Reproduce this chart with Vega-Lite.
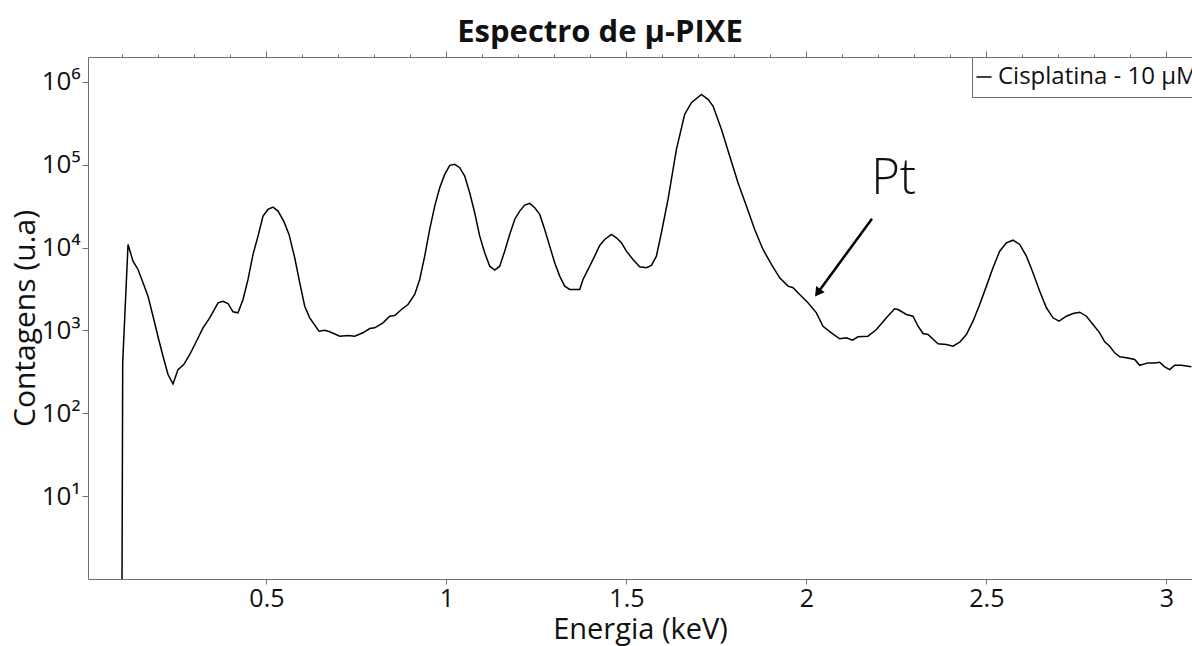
{
  "$schema": "https://vega.github.io/schema/vega-lite/v6.json",
  "width": 1104,
  "height": 522,
  "autosize": {"type": "none"},
  "padding": {"left": 88, "top": 57, "right": 0, "bottom": 67},
  "background": "white",
  "config": {
    "font": "Open Sans",
    "view": {"stroke": null},
    "axis": {"domainColor": "#707070", "tickColor": "#707070", "grid": false, "labelColor": "#111111", "titleColor": "#111111", "labelFont": "Open Sans", "titleFont": "Open Sans"}
  },
  "title": {"text": "Espectro de μ-PIXE", "fontSize": 31, "fontWeight": "bold", "font": "Open Sans", "anchor": "middle", "frame": "group", "dx": -40, "dy": 31, "baseline": "alphabetic", "offset": 9, "color": "#111111"},
  "datasets": {
    "spectrum": [
      {"energia": 0.0989, "contagens": 1, "serie": "Cisplatina - 10 μM"},
      {"energia": 0.1008, "contagens": 410, "serie": "Cisplatina - 10 μM"},
      {"energia": 0.1156, "contagens": 10920, "serie": "Cisplatina - 10 μM"},
      {"energia": 0.1294, "contagens": 6870, "serie": "Cisplatina - 10 μM"},
      {"energia": 0.1433, "contagens": 5450, "serie": "Cisplatina - 10 μM"},
      {"energia": 0.1572, "contagens": 3770, "serie": "Cisplatina - 10 μM"},
      {"energia": 0.1711, "contagens": 2595, "serie": "Cisplatina - 10 μM"},
      {"energia": 0.1850, "contagens": 1486, "serie": "Cisplatina - 10 μM"},
      {"energia": 0.2008, "contagens": 778, "serie": "Cisplatina - 10 μM"},
      {"energia": 0.2128, "contagens": 489, "serie": "Cisplatina - 10 μM"},
      {"energia": 0.2267, "contagens": 294, "serie": "Cisplatina - 10 μM"},
      {"energia": 0.2406, "contagens": 227, "serie": "Cisplatina - 10 μM"},
      {"energia": 0.2544, "contagens": 337, "serie": "Cisplatina - 10 μM"},
      {"energia": 0.2703, "contagens": 388, "serie": "Cisplatina - 10 μM"},
      {"energia": 0.2869, "contagens": 512, "serie": "Cisplatina - 10 μM"},
      {"energia": 0.3056, "contagens": 741, "serie": "Cisplatina - 10 μM"},
      {"energia": 0.3239, "contagens": 1076, "serie": "Cisplatina - 10 μM"},
      {"energia": 0.3425, "contagens": 1422, "serie": "Cisplatina - 10 μM"},
      {"energia": 0.3656, "contagens": 2158, "serie": "Cisplatina - 10 μM"},
      {"energia": 0.3794, "contagens": 2256, "serie": "Cisplatina - 10 μM"},
      {"energia": 0.3933, "contagens": 2117, "serie": "Cisplatina - 10 μM"},
      {"energia": 0.4072, "contagens": 1680, "serie": "Cisplatina - 10 μM"},
      {"energia": 0.4211, "contagens": 1634, "serie": "Cisplatina - 10 μM"},
      {"energia": 0.4350, "contagens": 2366, "serie": "Cisplatina - 10 μM"},
      {"energia": 0.4489, "contagens": 4130, "serie": "Cisplatina - 10 μM"},
      {"energia": 0.4628, "contagens": 8280, "serie": "Cisplatina - 10 μM"},
      {"energia": 0.4767, "contagens": 13770, "serie": "Cisplatina - 10 μM"},
      {"energia": 0.4906, "contagens": 23990, "serie": "Cisplatina - 10 μM"},
      {"energia": 0.5044, "contagens": 28910, "serie": "Cisplatina - 10 μM"},
      {"energia": 0.5183, "contagens": 30830, "serie": "Cisplatina - 10 μM"},
      {"energia": 0.5322, "contagens": 27600, "serie": "Cisplatina - 10 μM"},
      {"energia": 0.5481, "contagens": 20890, "serie": "Cisplatina - 10 μM"},
      {"energia": 0.5628, "contagens": 14430, "serie": "Cisplatina - 10 μM"},
      {"energia": 0.5786, "contagens": 7550, "serie": "Cisplatina - 10 μM"},
      {"energia": 0.5925, "contagens": 3770, "serie": "Cisplatina - 10 μM"},
      {"energia": 0.6064, "contagens": 1963, "serie": "Cisplatina - 10 μM"},
      {"energia": 0.6203, "contagens": 1422, "serie": "Cisplatina - 10 μM"},
      {"energia": 0.6461, "contagens": 979, "serie": "Cisplatina - 10 μM"},
      {"energia": 0.6619, "contagens": 1007, "serie": "Cisplatina - 10 μM"},
      {"energia": 0.6758, "contagens": 963, "serie": "Cisplatina - 10 μM"},
      {"energia": 0.7036, "contagens": 853, "serie": "Cisplatina - 10 μM"},
      {"energia": 0.7267, "contagens": 869, "serie": "Cisplatina - 10 μM"},
      {"energia": 0.7453, "contagens": 853, "serie": "Cisplatina - 10 μM"},
      {"energia": 0.7683, "contagens": 937, "serie": "Cisplatina - 10 μM"},
      {"energia": 0.7869, "contagens": 1056, "serie": "Cisplatina - 10 μM"},
      {"energia": 0.8008, "contagens": 1076, "serie": "Cisplatina - 10 μM"},
      {"energia": 0.8239, "contagens": 1238, "serie": "Cisplatina - 10 μM"},
      {"energia": 0.8425, "contagens": 1486, "serie": "Cisplatina - 10 μM"},
      {"energia": 0.8564, "contagens": 1517, "serie": "Cisplatina - 10 μM"},
      {"energia": 0.8750, "contagens": 1791, "serie": "Cisplatina - 10 μM"},
      {"energia": 0.8933, "contagens": 2056, "serie": "Cisplatina - 10 μM"},
      {"energia": 0.9119, "contagens": 2718, "serie": "Cisplatina - 10 μM"},
      {"energia": 0.9258, "contagens": 4130, "serie": "Cisplatina - 10 μM"},
      {"energia": 0.9397, "contagens": 7890, "serie": "Cisplatina - 10 μM"},
      {"energia": 0.9536, "contagens": 16590, "serie": "Cisplatina - 10 μM"},
      {"energia": 0.9675, "contagens": 31700, "serie": "Cisplatina - 10 μM"},
      {"energia": 0.9814, "contagens": 52850, "serie": "Cisplatina - 10 μM"},
      {"energia": 0.9953, "contagens": 76560, "serie": "Cisplatina - 10 μM"},
      {"energia": 1.0092, "contagens": 98400, "serie": "Cisplatina - 10 μM"},
      {"energia": 1.0231, "contagens": 101100, "serie": "Cisplatina - 10 μM"},
      {"energia": 1.0369, "contagens": 92300, "serie": "Cisplatina - 10 μM"},
      {"energia": 1.0508, "contagens": 73100, "serie": "Cisplatina - 10 μM"},
      {"energia": 1.0647, "contagens": 46030, "serie": "Cisplatina - 10 μM"},
      {"energia": 1.0786, "contagens": 26370, "serie": "Cisplatina - 10 μM"},
      {"energia": 1.0925, "contagens": 13770, "serie": "Cisplatina - 10 μM"},
      {"energia": 1.1064, "contagens": 8670, "serie": "Cisplatina - 10 μM"},
      {"energia": 1.1203, "contagens": 5970, "serie": "Cisplatina - 10 μM"},
      {"energia": 1.1342, "contagens": 5350, "serie": "Cisplatina - 10 μM"},
      {"energia": 1.1481, "contagens": 5970, "serie": "Cisplatina - 10 μM"},
      {"energia": 1.1619, "contagens": 9060, "serie": "Cisplatina - 10 μM"},
      {"energia": 1.1758, "contagens": 14430, "serie": "Cisplatina - 10 μM"},
      {"energia": 1.1897, "contagens": 21880, "serie": "Cisplatina - 10 μM"},
      {"energia": 1.2036, "contagens": 27600, "serie": "Cisplatina - 10 μM"},
      {"energia": 1.2175, "contagens": 32580, "serie": "Cisplatina - 10 μM"},
      {"energia": 1.2314, "contagens": 34200, "serie": "Cisplatina - 10 μM"},
      {"energia": 1.2453, "contagens": 30340, "serie": "Cisplatina - 10 μM"},
      {"energia": 1.2592, "contagens": 25180, "serie": "Cisplatina - 10 μM"},
      {"energia": 1.2731, "contagens": 16590, "serie": "Cisplatina - 10 μM"},
      {"energia": 1.2869, "contagens": 10420, "serie": "Cisplatina - 10 μM"},
      {"energia": 1.3008, "contagens": 6560, "serie": "Cisplatina - 10 μM"},
      {"energia": 1.3147, "contagens": 4530, "serie": "Cisplatina - 10 μM"},
      {"energia": 1.3286, "contagens": 3430, "serie": "Cisplatina - 10 μM"},
      {"energia": 1.3425, "contagens": 3126, "serie": "Cisplatina - 10 μM"},
      {"energia": 1.3703, "contagens": 3126, "serie": "Cisplatina - 10 μM"},
      {"energia": 1.3794, "contagens": 4130, "serie": "Cisplatina - 10 μM"},
      {"energia": 1.3981, "contagens": 5970, "serie": "Cisplatina - 10 μM"},
      {"energia": 1.4119, "contagens": 7890, "serie": "Cisplatina - 10 μM"},
      {"energia": 1.4258, "contagens": 10620, "serie": "Cisplatina - 10 μM"},
      {"energia": 1.4397, "contagens": 12560, "serie": "Cisplatina - 10 μM"},
      {"energia": 1.4583, "contagens": 14430, "serie": "Cisplatina - 10 μM"},
      {"energia": 1.4722, "contagens": 13150, "serie": "Cisplatina - 10 μM"},
      {"energia": 1.4861, "contagens": 11450, "serie": "Cisplatina - 10 μM"},
      {"energia": 1.5000, "contagens": 9060, "serie": "Cisplatina - 10 μM"},
      {"energia": 1.5183, "contagens": 7200, "serie": "Cisplatina - 10 μM"},
      {"energia": 1.5369, "contagens": 5870, "serie": "Cisplatina - 10 μM"},
      {"energia": 1.5556, "contagens": 5710, "serie": "Cisplatina - 10 μM"},
      {"energia": 1.5694, "contagens": 6090, "serie": "Cisplatina - 10 μM"},
      {"energia": 1.5833, "contagens": 7890, "serie": "Cisplatina - 10 μM"},
      {"energia": 1.5972, "contagens": 15130, "serie": "Cisplatina - 10 μM"},
      {"energia": 1.6156, "contagens": 38190, "serie": "Cisplatina - 10 μM"},
      {"energia": 1.6389, "contagens": 153500, "serie": "Cisplatina - 10 μM"},
      {"energia": 1.6619, "contagens": 406400, "serie": "Cisplatina - 10 μM"},
      {"energia": 1.6806, "contagens": 562600, "serie": "Cisplatina - 10 μM"},
      {"energia": 1.7083, "contagens": 708500, "serie": "Cisplatina - 10 μM"},
      {"energia": 1.7267, "contagens": 616400, "serie": "Cisplatina - 10 μM"},
      {"energia": 1.7406, "contagens": 512100, "serie": "Cisplatina - 10 μM"},
      {"energia": 1.7639, "contagens": 267700, "serie": "Cisplatina - 10 μM"},
      {"energia": 1.7869, "contagens": 127400, "serie": "Cisplatina - 10 μM"},
      {"energia": 1.8100, "contagens": 60780, "serie": "Cisplatina - 10 μM"},
      {"energia": 1.8333, "contagens": 31700, "serie": "Cisplatina - 10 μM"},
      {"energia": 1.8564, "contagens": 16590, "serie": "Cisplatina - 10 μM"},
      {"energia": 1.8794, "contagens": 9510, "serie": "Cisplatina - 10 μM"},
      {"energia": 1.9028, "contagens": 6270, "serie": "Cisplatina - 10 μM"},
      {"energia": 1.9258, "contagens": 4325, "serie": "Cisplatina - 10 μM"},
      {"energia": 1.9489, "contagens": 3430, "serie": "Cisplatina - 10 μM"},
      {"energia": 1.9628, "contagens": 3276, "serie": "Cisplatina - 10 μM"},
      {"energia": 1.9814, "contagens": 2718, "serie": "Cisplatina - 10 μM"},
      {"energia": 2.0044, "contagens": 2158, "serie": "Cisplatina - 10 μM"},
      {"energia": 2.0278, "contagens": 1634, "serie": "Cisplatina - 10 μM"},
      {"energia": 2.0461, "contagens": 1125, "serie": "Cisplatina - 10 μM"},
      {"energia": 2.0694, "contagens": 937, "serie": "Cisplatina - 10 μM"},
      {"energia": 2.0925, "contagens": 793, "serie": "Cisplatina - 10 μM"},
      {"energia": 2.1111, "contagens": 815, "serie": "Cisplatina - 10 μM"},
      {"energia": 2.1278, "contagens": 762, "serie": "Cisplatina - 10 μM"},
      {"energia": 2.1433, "contagens": 838, "serie": "Cisplatina - 10 μM"},
      {"energia": 2.1711, "contagens": 853, "serie": "Cisplatina - 10 μM"},
      {"energia": 2.1944, "contagens": 1028, "serie": "Cisplatina - 10 μM"},
      {"energia": 2.2222, "contagens": 1422, "serie": "Cisplatina - 10 μM"},
      {"energia": 2.2453, "contagens": 1828, "serie": "Cisplatina - 10 μM"},
      {"energia": 2.2544, "contagens": 1791, "serie": "Cisplatina - 10 μM"},
      {"energia": 2.2778, "contagens": 1560, "serie": "Cisplatina - 10 μM"},
      {"energia": 2.2961, "contagens": 1486, "serie": "Cisplatina - 10 μM"},
      {"energia": 2.3100, "contagens": 1125, "serie": "Cisplatina - 10 μM"},
      {"energia": 2.3239, "contagens": 919, "serie": "Cisplatina - 10 μM"},
      {"energia": 2.3378, "contagens": 893, "serie": "Cisplatina - 10 μM"},
      {"energia": 2.3656, "contagens": 690, "serie": "Cisplatina - 10 μM"},
      {"energia": 2.3889, "contagens": 676, "serie": "Cisplatina - 10 μM"},
      {"energia": 2.4072, "contagens": 646, "serie": "Cisplatina - 10 μM"},
      {"energia": 2.4258, "contagens": 721, "serie": "Cisplatina - 10 μM"},
      {"energia": 2.4444, "contagens": 893, "serie": "Cisplatina - 10 μM"},
      {"energia": 2.4628, "contagens": 1294, "serie": "Cisplatina - 10 μM"},
      {"energia": 2.4814, "contagens": 2061, "serie": "Cisplatina - 10 μM"},
      {"energia": 2.5000, "contagens": 3430, "serie": "Cisplatina - 10 μM"},
      {"energia": 2.5183, "contagens": 5710, "serie": "Cisplatina - 10 μM"},
      {"energia": 2.5369, "contagens": 9060, "serie": "Cisplatina - 10 μM"},
      {"energia": 2.5556, "contagens": 11450, "serie": "Cisplatina - 10 μM"},
      {"energia": 2.5739, "contagens": 12300, "serie": "Cisplatina - 10 μM"},
      {"energia": 2.5925, "contagens": 10920, "serie": "Cisplatina - 10 μM"},
      {"energia": 2.6111, "contagens": 7890, "serie": "Cisplatina - 10 μM"},
      {"energia": 2.6294, "contagens": 4980, "serie": "Cisplatina - 10 μM"},
      {"energia": 2.6481, "contagens": 2980, "serie": "Cisplatina - 10 μM"},
      {"energia": 2.6667, "contagens": 1879, "serie": "Cisplatina - 10 μM"},
      {"energia": 2.6850, "contagens": 1422, "serie": "Cisplatina - 10 μM"},
      {"energia": 2.7017, "contagens": 1294, "serie": "Cisplatina - 10 μM"},
      {"energia": 2.7222, "contagens": 1486, "serie": "Cisplatina - 10 μM"},
      {"energia": 2.7406, "contagens": 1603, "serie": "Cisplatina - 10 μM"},
      {"energia": 2.7592, "contagens": 1663, "serie": "Cisplatina - 10 μM"},
      {"energia": 2.7778, "contagens": 1486, "serie": "Cisplatina - 10 μM"},
      {"energia": 2.7961, "contagens": 1180, "serie": "Cisplatina - 10 μM"},
      {"energia": 2.8147, "contagens": 937, "serie": "Cisplatina - 10 μM"},
      {"energia": 2.8286, "contagens": 730, "serie": "Cisplatina - 10 μM"},
      {"energia": 2.8425, "contagens": 646, "serie": "Cisplatina - 10 μM"},
      {"energia": 2.8564, "contagens": 537, "serie": "Cisplatina - 10 μM"},
      {"energia": 2.8703, "contagens": 481, "serie": "Cisplatina - 10 μM"},
      {"energia": 2.8889, "contagens": 468, "serie": "Cisplatina - 10 μM"},
      {"energia": 2.9119, "contagens": 446, "serie": "Cisplatina - 10 μM"},
      {"energia": 2.9258, "contagens": 380, "serie": "Cisplatina - 10 μM"},
      {"energia": 2.9489, "contagens": 406, "serie": "Cisplatina - 10 μM"},
      {"energia": 2.9675, "contagens": 406, "serie": "Cisplatina - 10 μM"},
      {"energia": 2.9814, "contagens": 414, "serie": "Cisplatina - 10 μM"},
      {"energia": 2.9953, "contagens": 364, "serie": "Cisplatina - 10 μM"},
      {"energia": 3.0092, "contagens": 337, "serie": "Cisplatina - 10 μM"},
      {"energia": 3.0231, "contagens": 380, "serie": "Cisplatina - 10 μM"},
      {"energia": 3.0417, "contagens": 380, "serie": "Cisplatina - 10 μM"},
      {"energia": 3.0694, "contagens": 364, "serie": "Cisplatina - 10 μM"}
    ],
    "label": [{"x": 2.2425, "y": 43870, "texto": "Pt"}],
    "arrow": [{"x1": 2.1822, "y1": 22340, "x2": 2.030, "y2": 2796}],
    "head": [{"x": 2.0314, "y": 2851}]
  },
  "layer": [
    {
      "data": {"name": "spectrum"},
      "mark": {"type": "line", "color": "black", "strokeWidth": 1.5, "clip": true},
      "encoding": {
        "x": {
          "field": "energia", "type": "quantitative",
          "scale": {"domain": [0.0044, 3.0711], "nice": false, "zero": false},
          "axis": {"orient": "bottom", "values": [0.5, 1, 1.5, 2, 2.5, 3], "format": ".1~f", "title": "Energia (keV)", "titleFontSize": 29, "titleFontWeight": "normal", "labelFontSize": 25, "tickSize": 5, "labelPadding": 2, "titlePadding": 4, "labelFlush": false}
        },
        "y": {
          "field": "contagens", "type": "quantitative", "title": "Contagens (u.a)",
          "scale": {"type": "log", "domain": [1, 2000000], "nice": false},
          "axis": {"values": [10, 100, 1000, 10000, 100000, 1000000], "labelExpr": "datum.value < 50 ? '10¹' : datum.value < 500 ? '10²' : datum.value < 5000 ? '10³' : datum.value < 50000 ? '10⁴' : datum.value < 500000 ? '10⁵' : '10⁶'", "title": "Contagens (u.a)", "titleFontSize": 30, "titleFontWeight": "normal", "labelFontSize": 26, "tickSize": 6, "labelPadding": 2, "titlePadding": 1}
        },
        "color": {
          "field": "serie", "type": "nominal",
          "scale": {"range": ["black"]},
          "legend": {"title": null, "orient": "none", "legendX": 884, "legendY": 0, "padding": 8, "symbolOffset": -8, "strokeColor": "#707070", "fillColor": "white", "symbolType": "stroke", "symbolSize": 225, "symbolStrokeWidth": 1.5, "symbolStrokeColor": "black", "labelFontSize": 24, "labelOffset": 2, "labelColor": "#111111", "labelLimit": 400, "cornerRadius": 0}
        }
      }
    },
    {
      "data": {"name": "label"},
      "mark": {"type": "text", "fontSize": 49, "fontWeight": 300, "align": "center", "baseline": "alphabetic", "color": "#111111"},
      "encoding": {
        "x": {
          "field": "x", "type": "quantitative",
          "axis": {"orient": "top", "title": null, "labels": false, "values": [0.1, 0.2, 0.3, 0.4, 0.5, 0.6, 0.7, 0.8, 0.9, 1.0, 1.1, 1.2, 1.3, 1.4, 1.5, 1.6, 1.7, 1.8, 1.9, 2.0, 2.1, 2.2, 2.3, 2.4, 2.5, 2.6, 2.7, 2.8, 2.9, 3.0],
            "tickSize": {"condition": {"test": "abs(datum.value * 2 - round(datum.value * 2)) < 0.001", "value": 6}, "value": 3}}
        },
        "y": {"field": "y", "type": "quantitative", "title": "Contagens (u.a)"},
        "text": {"field": "texto", "type": "nominal"}
      }
    },
    {
      "data": {"name": "arrow"},
      "mark": {"type": "rule", "color": "black", "strokeWidth": 2.5},
      "encoding": {
        "x": {"field": "x1", "type": "quantitative", "axis": null},
        "y": {"field": "y1", "type": "quantitative", "title": "Contagens (u.a)"},
        "x2": {"field": "x2"},
        "y2": {"field": "y2"}
      }
    },
    {
      "data": {"name": "head"},
      "mark": {"type": "point", "shape": "triangle-up", "filled": true, "size": 110, "angle": 216.3, "color": "black", "opacity": 1},
      "encoding": {
        "x": {"field": "x", "type": "quantitative", "axis": null},
        "y": {"field": "y", "type": "quantitative", "title": "Contagens (u.a)"}
      }
    }
  ],
  "resolve": {"axis": {"x": "independent"}}
}
